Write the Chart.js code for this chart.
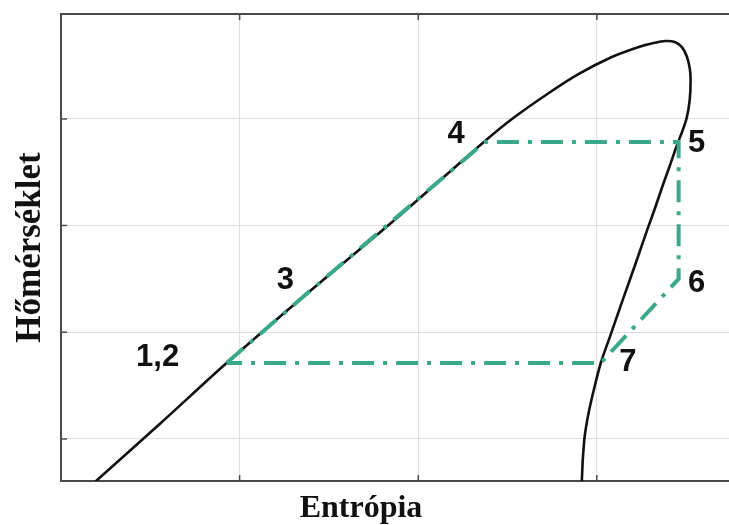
<!DOCTYPE html>
<html><head><meta charset="utf-8">
<script src="https://cdn.jsdelivr.net/npm/chart.js@4.4.0/dist/chart.umd.min.js"></script>
<style>html,body{margin:0;padding:0;background:#fff;overflow:hidden}</style>
</head><body>
<canvas id="c" width="729" height="525"></canvas>
<script>
// Saturation dome (entropy, temperature) in chart units
const domeX = [0.190, 0.559, 0.927, 1.335, 1.894, 2.374, 2.525, 2.715, 2.899, 3.084, 3.235, 3.318, 3.385, 3.436, 3.475, 3.503, 3.520, 3.525, 3.520, 3.503, 3.475, 3.453, 3.410, 3.366, 3.326, 3.286, 3.220, 3.145, 3.077, 3.022, 2.983, 2.955, 2.933, 2.922, 2.916];
const domeY = [0.597, 1.150, 1.712, 2.303, 3.090, 3.793, 3.999, 4.224, 4.421, 4.580, 4.674, 4.711, 4.730, 4.721, 4.674, 4.590, 4.477, 4.365, 4.177, 4.008, 3.868, 3.774, 3.568, 3.362, 3.165, 2.978, 2.659, 2.303, 1.975, 1.712, 1.459, 1.253, 1.037, 0.822, 0.606];
// Cycle points 1,2 -> 3 -> 4 -> 5 -> 6 -> 7 -> 1,2
const cycleX = [0.927, 1.335, 2.374, 3.458, 3.458, 3.022, 0.927];
const cycleY = [1.712, 2.303, 3.784, 3.784, 2.500, 1.712, 1.712];
const pointLabels = ['1,2', '3', '4', '5', '6', '7'];
const xTicks = [1, 2, 3];
const yTicks = [1, 2, 3, 4];
const xTitle = 'Entrópia';
const yTitle = 'Hőmérséklet';

const dome = domeX.map((x, i) => ({x, y: domeY[i]}));
const cycle = cycleX.map((x, i) => ({x, y: cycleY[i]}));

const labelOffsets = [[-69, -6], [-14, -19], [-29, -7], [18, 2], [18, 5], [27, -1]];

const decor = {
  id: 'decor',
  afterDraw(chart) {
    const ctx = chart.ctx, xs = chart.scales.x, ys = chart.scales.y, a = chart.chartArea;
    ctx.save();
    // inner tick marks
    ctx.strokeStyle = '#4a4a4a';
    ctx.lineWidth = 1.5;
    ctx.beginPath();
    xTicks.forEach(v => {
      const px = xs.getPixelForValue(v);
      ctx.moveTo(px, a.top); ctx.lineTo(px, a.top + 6);
      ctx.moveTo(px, a.bottom); ctx.lineTo(px, a.bottom - 6);
    });
    yTicks.forEach(v => {
      const py = ys.getPixelForValue(v);
      ctx.moveTo(a.left, py); ctx.lineTo(a.left + 6, py);
    });
    ctx.stroke();
    // point labels
    ctx.fillStyle = '#111';
    ctx.font = 'bold 31px "Liberation Sans", Arial, sans-serif';
    ctx.textAlign = 'center';
    ctx.textBaseline = 'middle';
    pointLabels.forEach((t, i) => {
      const px = xs.getPixelForValue(cycleX[i]) + labelOffsets[i][0];
      const py = ys.getPixelForValue(cycleY[i]) + labelOffsets[i][1];
      ctx.fillText(t, px, py);
    });
    // axis titles
    ctx.font = 'bold 32px "Liberation Serif", "Times New Roman", serif';
    ctx.textBaseline = 'alphabetic';
    ctx.fillText(xTitle, 361, 517);
    ctx.save();
    ctx.translate(40, (a.top + a.bottom) / 2);
    ctx.rotate(-Math.PI / 2);
    ctx.font = 'bold 35px "Liberation Serif", "Times New Roman", serif';
    ctx.fillText(yTitle, 0, 0);
    ctx.restore();
    ctx.restore();
  }
};

new Chart(document.getElementById('c'), {
  type: 'scatter',
  data: {
    datasets: [
      {data: cycle, showLine: true, borderColor: '#3aa98b', borderWidth: 4, borderDash: [22, 9, 4, 9], pointRadius: 0, tension: 0, order: 0},
      {data: dome, showLine: true, borderColor: '#111', borderWidth: 2.6, pointRadius: 0, tension: 0.3, order: 1}
    ]
  },
  options: {
    responsive: false,
    animation: false,
    layout: {padding: {left: 61, top: 14, right: 0, bottom: 44}},
    plugins: {legend: {display: false}, tooltip: {enabled: false}},
    scales: {
      x: {
        type: 'linear', position: 'bottom', min: 0, max: 3.74,
        afterBuildTicks: s => { s.ticks = xTicks.map(v => ({value: v})); },
        ticks: {display: false},
        grid: {color: '#e4dddd', lineWidth: 1, drawTicks: false},
        border: {display: true, color: '#4a4a4a', width: 2}
      },
      x2: {
        type: 'linear', position: 'top', min: 0, max: 3.74,
        ticks: {display: false},
        grid: {display: false, drawTicks: false},
        border: {display: true, color: '#4a4a4a', width: 2}
      },
      y: {
        type: 'linear', position: 'left', min: 0.606, max: 4.983,
        afterBuildTicks: s => { s.ticks = yTicks.map(v => ({value: v})); },
        ticks: {display: false},
        grid: {color: '#e4dddd', lineWidth: 1, drawTicks: false},
        border: {display: true, color: '#4a4a4a', width: 2}
      }
    }
  },
  plugins: [decor]
});
</script>
</body></html>
